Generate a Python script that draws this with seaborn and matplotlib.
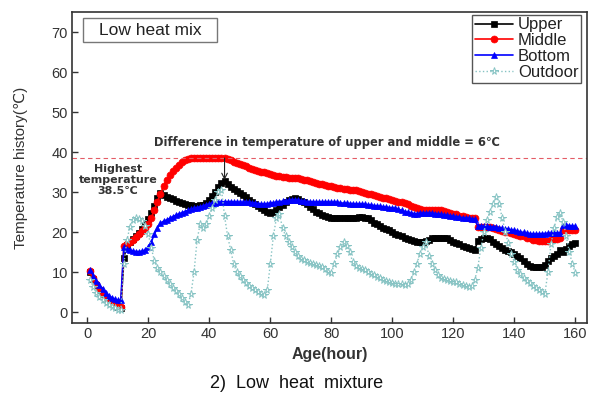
import matplotlib
matplotlib.use('Agg')
import matplotlib.pyplot as plt
import matplotlib.patches as mpatches
import seaborn as sns
import pandas as pd

# ---------------- data ----------------
hours = list(range(1, 161))

upper = [10.0, 8.3, 6.8, 5.5, 4.5, 3.6, 2.9, 2.3, 1.8, 1.3, 1.0,
         13.4, 16.8, 17.5, 18.2, 19.0, 19.8, 20.8, 22.0, 23.2,
         24.8, 26.5, 28.5, 29.7, 29.3, 28.8, 28.5, 28.2, 27.8, 27.6,
         27.3, 27.0, 26.8, 26.7, 26.6, 26.6, 26.7, 26.8, 27.3, 28.0,
         29.0, 30.0, 31.2, 32.2, 32.7, 32.0, 31.3, 30.8, 30.3, 29.8,
         29.3, 28.7, 28.1, 27.5, 27.0, 26.4, 25.9, 25.4, 25.1, 24.8,
         25.0, 25.5, 26.3, 26.8, 27.6, 28.0, 28.2, 28.4, 28.2, 27.8,
         27.4, 26.9, 26.3, 25.7, 25.1, 24.7, 24.3, 24.0, 23.8, 23.6,
         23.5, 23.4, 23.4, 23.4, 23.4, 23.4, 23.4, 23.6, 23.8, 23.8,
         23.6, 23.4, 22.9, 22.3, 21.9, 21.5, 21.1, 20.7, 20.4, 20.0,
         19.6, 19.3, 19.0, 18.6, 18.3, 18.0, 17.8, 17.6, 17.6, 17.6,
         17.8, 18.1, 18.5, 18.5, 18.5, 18.5, 18.4, 18.4, 18.0, 17.6,
         17.3, 17.0, 16.6, 16.3, 16.0, 15.7, 15.5, 17.8, 18.2, 18.4,
         18.4, 18.2, 17.6, 17.0, 16.5, 16.0, 15.6, 15.3, 15.0, 14.5,
         14.0, 13.5, 12.8, 12.0, 11.5, 11.3, 11.2, 11.2, 11.2, 11.8,
         12.8, 13.5, 14.0, 14.6, 15.4, 15.1, 15.8, 16.5, 17.0, 17.3]

middle = [10.3, 8.5, 7.0, 5.8, 4.7, 3.8, 3.0, 2.4, 1.9, 1.5, 1.2,
          16.5, 17.0, 17.5, 18.0, 18.7, 19.5, 20.3, 21.0, 22.0,
          23.5, 25.5, 27.5, 29.5, 31.5, 33.0, 34.2, 35.2, 36.0, 36.8,
          37.4, 37.9, 38.2, 38.4, 38.5, 38.5, 38.5, 38.5, 38.5, 38.5,
          38.5, 38.5, 38.5, 38.5, 38.6, 38.3, 38.0, 37.6, 37.3, 37.0,
          36.7, 36.4, 36.1, 35.8, 35.6, 35.3, 35.1, 34.9, 34.7, 34.5,
          34.3, 34.1, 33.9, 33.8, 33.7, 33.6, 33.5, 33.5, 33.4, 33.3,
          33.1, 32.9, 32.7, 32.5, 32.3, 32.1, 31.9, 31.7, 31.5, 31.4,
          31.2, 31.0, 30.9, 30.8, 30.7, 30.6, 30.5, 30.4, 30.2, 30.0,
          29.8, 29.6, 29.4, 29.2, 29.0, 28.8, 28.6, 28.4, 28.2, 28.0,
          27.8, 27.6, 27.4, 27.2, 26.9, 26.6, 26.3, 26.0, 25.8, 25.6,
          25.5, 25.5, 25.5, 25.5, 25.5, 25.4, 25.2, 25.0, 24.8, 24.6,
          24.4, 24.1, 23.9, 23.8, 23.6, 23.5, 23.4, 21.3, 21.3, 21.3,
          21.3, 21.2, 21.0, 20.8, 20.5, 20.3, 20.1, 19.9, 19.7, 19.5,
          19.3, 19.1, 18.9, 18.6, 18.4, 18.1, 17.9, 17.8, 17.7, 17.7,
          17.8, 18.0, 18.2, 18.3, 18.4, 20.5, 20.5, 20.5, 20.5, 20.6]

bottom = [10.5, 9.0, 7.8, 6.7, 5.7, 4.8, 4.1, 3.6, 3.2, 2.9, 3.0,
          16.3, 15.8, 15.5, 15.2, 15.1, 15.1, 15.2, 15.5, 16.2,
          17.5, 19.5, 21.0, 22.2, 22.7, 23.0, 23.4, 23.8, 24.2, 24.5,
          24.8, 25.1, 25.4, 25.7, 25.9, 26.1, 26.3, 26.5, 26.8, 27.0,
          27.2, 27.3, 27.4, 27.5, 27.6, 27.5, 27.6, 27.5, 27.5, 27.4,
          27.4, 27.5, 27.4, 27.3, 27.2, 27.1, 27.0, 27.0, 27.1, 27.2,
          27.3, 27.5, 27.6, 27.7, 27.8, 27.9, 28.0, 28.0, 27.9, 27.8,
          27.7, 27.6, 27.6, 27.5, 27.5, 27.5, 27.5, 27.5, 27.5, 27.4,
          27.5, 27.4, 27.3, 27.2, 27.2, 27.1, 27.1, 27.0, 27.0, 27.0,
          26.9, 26.8, 26.7, 26.6, 26.5, 26.4, 26.3, 26.2, 26.1, 26.0,
          25.9, 25.7, 25.4, 25.1, 24.9, 24.7, 24.6, 24.6, 24.7, 24.7,
          24.7, 24.7, 24.7, 24.6, 24.5, 24.4, 24.3, 24.2, 24.0, 23.9,
          23.8, 23.7, 23.6, 23.5, 23.4, 23.3, 23.2, 21.5, 21.5, 21.4,
          21.4, 21.3, 21.3, 21.2, 21.0, 20.9, 20.8, 20.7, 20.5, 20.4,
          20.2, 20.0, 19.9, 19.7, 19.6, 19.5, 19.5, 19.5, 19.6, 19.6,
          19.7, 19.7, 19.7, 19.8, 19.8, 21.7, 21.7, 21.6, 21.5, 21.4]

outdoor = [8.0, 6.2, 4.8, 3.8, 3.0, 2.3, 1.8, 1.3, 0.9, 0.6, 0.5,
           12.0, 18.0, 21.3, 23.0, 23.5, 23.3, 22.8, 21.5, 19.5,
           16.0, 12.8, 11.0, 10.0, 9.0, 8.0, 7.0, 6.0, 5.3, 4.5,
           3.5, 2.5, 1.8, 4.5, 10.0, 18.0, 22.0, 21.0, 22.0, 24.0,
           26.0, 28.0, 30.0, 30.5, 24.0, 19.0, 15.5, 12.0, 10.0, 9.0,
           8.0, 7.3, 6.6, 6.0, 5.4, 5.0, 4.6, 4.3, 5.5, 12.0,
           19.0, 23.5, 24.5, 21.0, 19.0, 17.5, 16.3, 15.0, 14.0, 13.3,
           13.0, 12.6, 12.3, 12.0, 11.8, 11.5, 11.2, 10.8, 10.0, 9.7,
           12.0, 14.5, 16.3, 17.6, 16.5, 15.0, 12.5, 11.5, 11.0, 10.7,
           10.5, 10.0, 9.6, 9.3, 8.8, 8.4, 8.0, 7.8, 7.6, 7.3,
           7.1, 7.0, 6.9, 6.8, 7.0, 8.0, 10.0, 12.0, 14.5, 16.3,
           17.6, 14.0, 12.0, 10.5, 9.2, 8.5, 8.2, 8.0, 7.8, 7.6,
           7.4, 7.1, 6.8, 6.5, 6.2, 6.5, 8.0, 11.0, 16.0, 20.0,
           23.0, 25.0, 27.0, 28.8, 27.0, 23.5, 20.0, 17.2, 14.5, 12.5,
           10.5, 9.5, 8.5, 7.8, 7.2, 6.6, 6.0, 5.5, 5.0, 4.6,
           10.0, 17.0, 21.0, 23.8, 24.7, 22.5, 19.0, 15.0, 12.0, 9.7]

series_names = ["Upper", "Middle", "Bottom", "Outdoor"]
x_ticks = [0, 20, 40, 60, 80, 100, 120, 140, 160]
y_ticks = [0, 10, 20, 30, 40, 50, 60, 70]
highest_temp = 38.5
peak_hour = 45

df = pd.DataFrame({"Age": hours * 4,
                   "Temp": upper + middle + bottom + outdoor,
                   "Series": sum([[n] * len(hours) for n in series_names], [])})

# ---------------- style ----------------
sns.set_style("ticks")
plt.rcParams['font.family'] = ['Liberation Sans', 'DejaVu Sans']

fig = plt.figure(figsize=(5.93, 4.08), dpi=100)
ax = fig.add_axes([72 / 593, 1 - 323 / 408, 515 / 593, 311 / 408])

styles = {
    "Upper":   dict(color="#000000", marker="s", markersize=3.8, linewidth=1.2, linestyle="-",
                    markeredgecolor="#000000", markeredgewidth=0.5),
    "Middle":  dict(color="#ff0000", marker="o", markersize=5.0, linewidth=1.2, linestyle="-",
                    markeredgecolor="#ff0000", markeredgewidth=0.5),
    "Bottom":  dict(color="#0000ff", marker="^", markersize=4.5, linewidth=1.2, linestyle="-",
                    markeredgecolor="#0000ff", markeredgewidth=0.5),
    "Outdoor": dict(color="#86c3c3", marker="*", markersize=5.5, linewidth=1.0, linestyle=":",
                    markerfacecolor="white", markeredgecolor="#86c3c3", markeredgewidth=0.7),
}
for name in series_names:
    sub = df[df["Series"] == name]
    sns.lineplot(data=sub, x="Age", y="Temp", ax=ax, label=name, errorbar=None, **styles[name])

ax.set_xlim(-5.0, 163.8)
ax.set_ylim(-2.75, 75)
ax.set_xticks(x_ticks)
ax.set_yticks(y_ticks)
ax.tick_params(direction="in", length=4, width=1, colors="#333333", labelsize=10.5, pad=3)
for s in ax.spines.values():
    s.set_color("#333333")
    s.set_linewidth(1.2)
    s.set_visible(True)

ax.set_xlabel("Age(hour)", fontsize=11.5, fontweight="bold", color="#333333", labelpad=4)
ax.set_ylabel("Temperature history(℃)", fontsize=11, color="#333333")
ax.yaxis.set_label_coords(-0.085, 0.5)

# dashed line at highest temperature
ax.axhline(highest_temp, color="#e45c66", linewidth=0.8, linestyle=(0, (4, 3)))

# arrow upper/middle difference
ax.annotate("", xy=(peak_hour, upper[peak_hour - 1] + 0.3), xytext=(peak_hour, highest_temp),
            arrowprops=dict(arrowstyle="->", color="#222222", lw=0.8, shrinkA=0, shrinkB=0))

ax.text(78.7, 42.3, "Difference in temperature of upper and middle = 6℃",
        ha="center", va="center", fontsize=8.3, fontweight="bold", color="#333333",
        family=["DejaVu Sans"])
ax.text(10.1, 33.0, "Highest\ntemperature\n38.5℃", ha="center", va="center",
        fontsize=8, fontweight="bold", color="#333333", linespacing=1.15,
        family=["DejaVu Sans"])

# title box
ax.add_patch(mpatches.Rectangle((11 / 515, (323 - 42) / 311), 134 / 515, 24 / 311,
                                transform=ax.transAxes, facecolor="white",
                                edgecolor="#777777", linewidth=1.0, zorder=5))
ax.text(0.1515, 0.942, "Low heat mix", transform=ax.transAxes, ha="center", va="center",
        fontsize=12.5, color="#222222", zorder=6)

# legend
leg = ax.legend(loc="upper right", bbox_to_anchor=(509 / 515, (323 - 15) / 311),
                borderaxespad=0, fontsize=12, frameon=True, fancybox=False,
                edgecolor="#555555", framealpha=1, handlelength=2.3,
                handletextpad=0.3, labelspacing=0.05, borderpad=0.15)
leg.get_frame().set_linewidth(1.0)
for t in leg.get_texts():
    t.set_color("#222222")

# caption
fig.text(0.5, 1 - 383 / 408, "2)  Low  heat  mixture", ha="center", va="center",
         fontsize=13, color="#111111", family=["Liberation Sans Narrow", "Liberation Sans"])

fig.savefig("out.png", dpi=100, facecolor="white")
